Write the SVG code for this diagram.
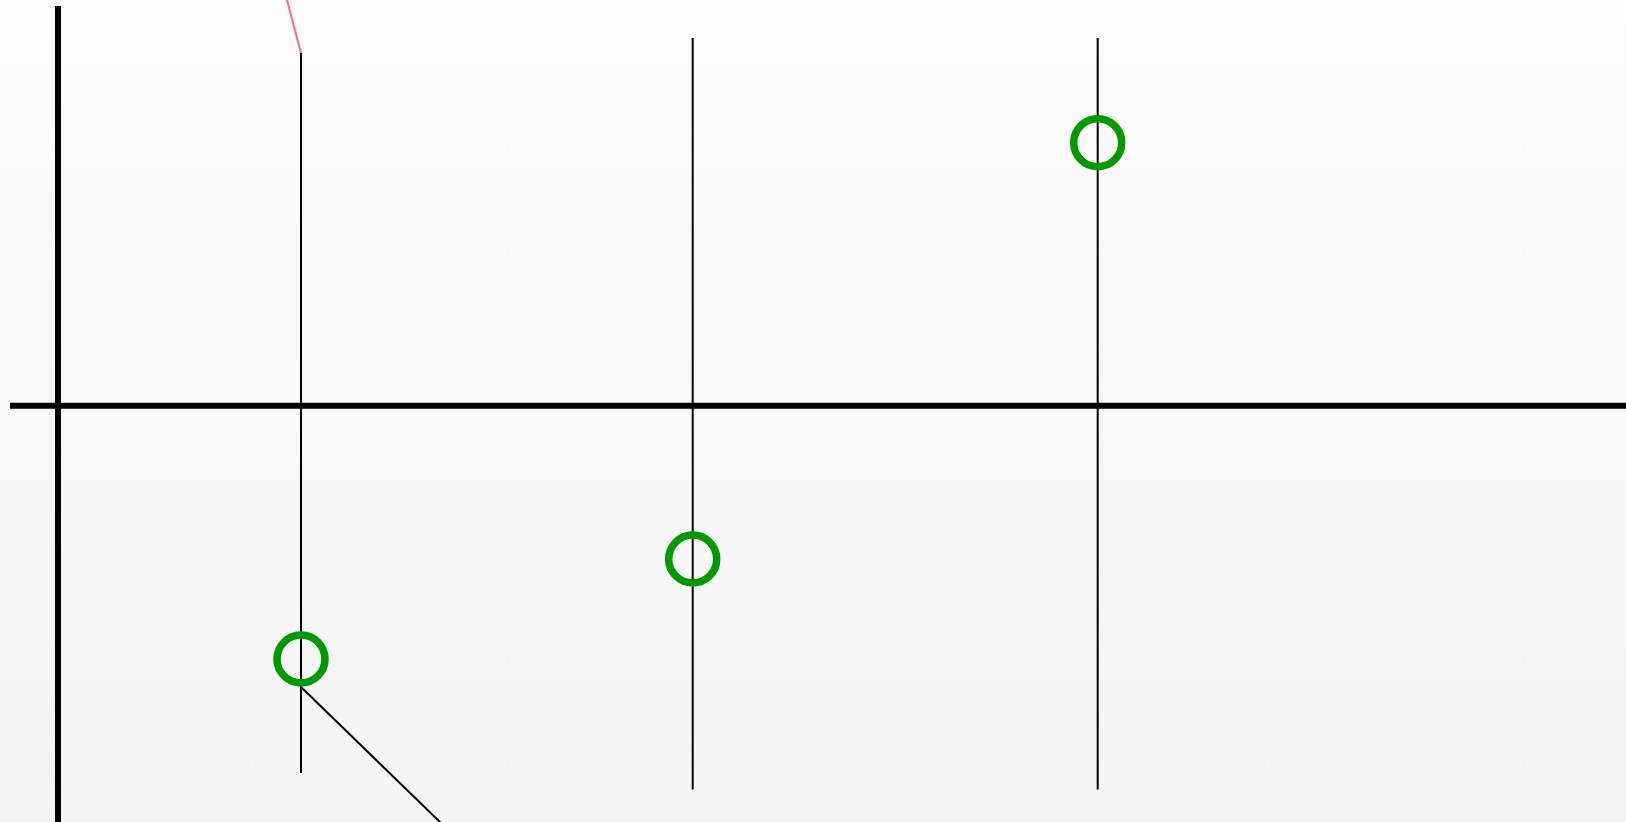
<svg xmlns="http://www.w3.org/2000/svg" width="1626" height="822" viewBox="0 0 1626 822">
<defs>
<linearGradient id="bg" x1="0" y1="0" x2="0" y2="1">
<stop offset="0" stop-color="#fcfcfc"/>
<stop offset="1" stop-color="#f4f4f4"/>
</linearGradient>
</defs>
<style>
.axis{stroke:#000;stroke-width:6;fill:none}
.thin{stroke:#000;stroke-width:2;fill:none}
.pink{stroke:#ff6699;stroke-width:2;fill:none}
.ring{stroke:#009900;stroke-width:7.5;fill:none}
</style>
<rect width="1626" height="822" fill="url(#bg)"/>
<g id="connectors">
<line class="axis" x1="58" y1="6" x2="58" y2="822"/>
<line class="axis" x1="10" y1="405.7" x2="1626" y2="405.7"/>
<line class="pink" x1="287" y1="0" x2="301" y2="53"/>
<line class="thin" x1="301" y1="53" x2="301" y2="773"/>
<line class="thin" x1="692.7" y1="38" x2="692.7" y2="789.5"/>
<line class="thin" x1="1097.7" y1="38" x2="1097.7" y2="789.5"/>
<line class="thin" x1="301" y1="687" x2="442" y2="824"/>
</g>
<g id="node1"><circle class="ring" cx="301" cy="659" r="24"/></g>
<g id="node2"><circle class="ring" cx="692.7" cy="559" r="24"/></g>
<g id="node3"><circle class="ring" cx="1097.7" cy="142.7" r="24"/></g>
</svg>
